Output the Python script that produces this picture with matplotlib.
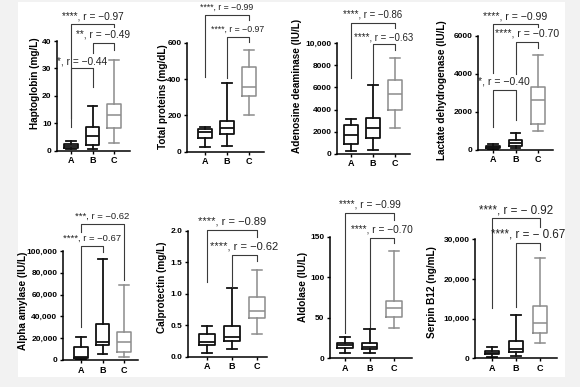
import matplotlib
matplotlib.use("Agg")
import matplotlib.pyplot as plt
from matplotlib.patches import Rectangle

plt.rcParams['font.family'] = ['Liberation Sans', 'DejaVu Sans']

W, H = 580, 387

groups = ['A', 'B', 'C']
box_colors = ['#111111', '#111111', '#8c8c8c']

ylabels = ['Haptoglobin (mg/L)', 'Total proteins (mg/dL)', 'Adenosine deaminase (IU/L)',
           'Lactate dehydrogenase (IU/L)', 'Alpha amylase (IU/L)', 'Calprotectin (mg/L)',
           'Aldolase (IU/L)', 'Serpin B12 (ng/mL)']

ytick_values = [[0, 10, 20, 30, 40],
                [0, 200, 400, 600],
                [0, 2000, 4000, 6000, 8000, 10000],
                [0, 2000, 4000, 6000],
                [0, 20000, 40000, 60000, 80000, 100000],
                [0, 0.5, 1.0, 1.5, 2.0],
                [0, 50, 100, 150],
                [0, 10000, 20000, 30000]]
ytick_labels = [['0', '10', '20', '30', '40'],
                ['0', '200', '400', '600'],
                ['0', '2000', '4000', '6000', '8000', '10,000'],
                ['0', '2000', '4000', '6000'],
                ['0', '20,000', '40,000', '60,000', '80,000', '100,000'],
                ['0.0', '0.5', '1.0', '1.5', '2.0'],
                ['0', '50', '100', '150'],
                ['0', '10,000', '20,000', '30,000']]

# box stats, one row per panel, A/B/C
whislo = [[0.6, 0.6, 2.7], [27, 33, 200], [240, 300, 2360], [35, 90, 980],
          [900, 5500, 3000], [0.063, 0.13, 0.36], [7, 6.2, 37.4], [420, 590, 3950]]
q1 = [[1.0, 2.2, 8.4], [77, 95, 306], [845, 1450, 3930], [105, 210, 1350],
      [2100, 13800, 7600], [0.185, 0.254, 0.608], [13.2, 11.1, 51.4], [1090, 1510, 6470]]
med = [[1.7, 5.5, 13.1], [110, 128, 354], [1690, 2300, 5400], [140, 330, 2600],
       [3000, 16800, 16800], [0.238, 0.307, 0.725], [16, 14.4, 61.6], [1430, 2270, 8820]]
q3 = [[2.3, 8.5, 17], [125, 171, 468], [2600, 3200, 6680], [210, 510, 3280],
      [12200, 32700, 26000], [0.354, 0.487, 0.94], [18.5, 18.5, 70.7], [1930, 4370, 13280]]
whishi = [[3.4, 16.3, 33], [138, 376, 560], [3140, 6220, 8700], [300, 860, 4980],
          [21400, 92400, 68800], [0.487, 1.085, 1.376], [25.9, 35.8, 132], [2940, 10900, 25200]]

# significance brackets: (group i, group j, bar height, leg i end, leg j end, text y, text)
brackets = [
    [(0, 1, 30.0, 8.5, 23.1, 32.7, '*, r = \u22120.44'),
     (1, 2, 39.1, 35.5, 36.7, 42.2, '**, r = \u22120.49'),
     (0, 2, 46.2, 11.8, 45.0, 49.1, '****, r = \u22120.97')],
    [(1, 2, 633, 404, 605, 673, '****, r = \u22120.97'),
     (0, 2, 752, 413, 725, 794, '****, r = \u22120.99')],
    [(1, 2, 9900, 6370, 9400, 10510, '****, r = \u22120.63'),
     (0, 2, 11870, 6830, 11360, 12570, '****, r = \u22120.86')],
    [(0, 1, 3140, 1210, 1560, 3580, '*, r = \u22120.40'),
     (1, 2, 5680, 3980, 5330, 6120, '****, r = \u22120.70'),
     (0, 2, 6610, 4020, 6440, 7030, '****, r = \u22120.99')],
    [(0, 1, 104600, 30600, 99400, 111600, '****, r = \u22120.67'),
     (0, 2, 124500, 117700, 73400, 132000, '***, r = \u22120.62')],
    [(1, 2, 1.62, 1.11, 1.52, 1.757, '****, r = \u22120.62'),
     (0, 2, 2.01, 1.19, 1.905, 2.14, '****, r = \u22120.89')],
    [(1, 2, 149, 39, 142, 159, '****, r = \u22120.70'),
     (0, 2, 179.6, 30.8, 171, 189.5, '****, r = \u22120.99')],
    [(1, 2, 29000, 13000, 27300, 31260, '****, r = \u2212 0.67'),
     (0, 2, 35300, 12600, 33200, 37200, '****, r = \u2212 0.92')],
]

# layout in pixels: y-axis x, x-axis end, y of zero, y of top tick, x of A, x of C
layout = [(57, 130, 150.7, 41.0, 71, 114),
          (187, 264, 151.7, 42.7, 205, 249),
          (337, 410, 153.7, 43.3, 351, 395),
          (478, 553, 149.7, 35.7, 493, 538),
          (63, 138, 360.0, 251.0, 81, 124),
          (188, 267, 356.7, 230.7, 207, 257),
          (330, 412, 358.3, 236.7, 345, 394),
          (475, 557, 358.3, 239.3, 492, 540)]
label_pos = [(35, 83), (163, 97), (297, 86), (442, 90),
             (23, 301), (162, 287), (303, 287), (432, 292)]
note_size = [7.3, 6.3, 6.9, 7.6, 6.8, 8.0, 7.3, 8.4]

fig = plt.figure(figsize=(W / 100, H / 100), dpi=100, facecolor='#f2f2f2')
fig.patches.append(Rectangle((18 / W, 1 - 377 / H), (565 - 18) / W, (377 - 2) / H,
                             transform=fig.transFigure, facecolor='white',
                             edgecolor='none', zorder=-10))

for k in range(8):
    xl, xr, y0, yt, xa, xc = layout[k]
    ax = fig.add_axes([xl / W, 1 - y0 / H, (xr - xl) / W, (y0 - yt) / H])
    ax.patch.set_alpha(0)
    ppu = (xc - xa) / 2.0
    ax.set_xlim(-(xa - xl) / ppu, 2 + (xr - xc) / ppu)
    ax.set_ylim(0, ytick_values[k][-1])

    for g in range(3):
        st = [dict(whislo=whislo[k][g], q1=q1[k][g], med=med[k][g],
                   q3=q3[k][g], whishi=whishi[k][g])]
        c = box_colors[g]
        lw = 1.3 if g < 2 else 1.1
        ax.bxp(st, positions=[g], widths=0.62, capwidths=0.42, showfliers=False,
               boxprops=dict(color=c, lw=lw), whiskerprops=dict(color=c, lw=lw),
               capprops=dict(color=c, lw=lw), medianprops=dict(color=c, lw=lw),
               manage_ticks=False)

    for (i, j, h, li, lj, ty, txt) in brackets[k]:
        ax.plot([i, i, j, j], [li, h, h, lj], color='#3a3a3a', lw=0.8, clip_on=False)
        ax.text((i + j) / 2, ty, txt, ha='center', va='center',
                fontsize=note_size[k], color='#222222', clip_on=False)

    ax.set_xticks(range(3))
    ax.set_xticklabels(groups, fontweight='bold', fontsize=6.5)
    ax.set_yticks(ytick_values[k])
    ax.set_yticklabels(ytick_labels[k], fontweight='bold', fontsize=6)
    for s in ['top', 'right']:
        ax.spines[s].set_visible(False)
    for s in ['left', 'bottom']:
        ax.spines[s].set_linewidth(1.1)
    ax.tick_params(direction='out', length=2.5, width=1.0, pad=1.5)

    ax.set_ylabel(ylabels[k], fontweight='bold', fontsize=7.2, va='center')
    lx, ly = label_pos[k]
    ax.yaxis.set_label_coords((lx - xl) / (xr - xl), (y0 - ly) / (y0 - yt))

fig.savefig('out.png', dpi=100, facecolor=fig.get_facecolor())
